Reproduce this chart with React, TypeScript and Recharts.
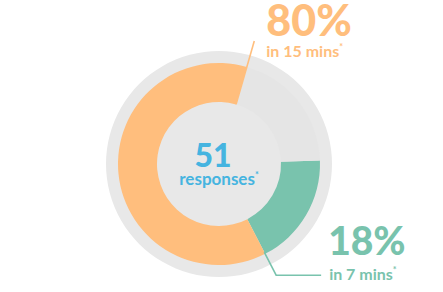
import { PieChart, Pie, Cell } from "recharts"

const segments = ["in 7 mins", "in 15 mins", "later"]
const shares = [18, 62, 20]
const bigLabels = ["18%", "80%", ""]
const subLabels = ["in 7 mins", "in 15 mins", ""]
const colors = ["#79C3AD", "#FFBE7D", "#E5E5E5"]
const totalResponses = 51

const data = segments.map((name, i) => ({ name, value: shares[i] }))
const backdrop = [{ name: "all", value: 1 }]

const RAD = Math.PI / 180
const FONT = "Lato, 'Open Sans', sans-serif"

const polar = (cx: number, cy: number, r: number, a: number) => ({
  x: cx + r * Math.cos(-a * RAD),
  y: cy + r * Math.sin(-a * RAD),
})

function centerLabel(props: any) {
  const { cx, cy } = props
  return (
    <g fontFamily={FONT} fontWeight={900} fill="#45B4E0">
      <text x={cx - 6} y={cy + 3} textAnchor="middle" fontSize={32}>
        {totalResponses}
      </text>
      <text x={cx} y={cy + 21} textAnchor="middle" fontSize={17} fontWeight={700}>
        responses<tspan fontSize={9} dy={-7}>*</tspan>
      </text>
    </g>
  )
}

function sliceLabel(props: any) {
  const { cx, cy, innerRadius, outerRadius, endAngle, index } = props
  if (index === 2) return null
  const color = colors[index]
  if (index === 1) {
    const a = polar(cx, cy, innerRadius, endAngle)
    const b = polar(cx, cy, outerRadius + 27, endAngle)
    return (
      <g fontFamily={FONT} fontWeight={700} fill={color}>
        <line x1={a.x} y1={a.y} x2={b.x} y2={b.y} stroke={color} strokeWidth={1.6} />
        <text x={b.x + 12} y={b.y - 5} fontSize={43} fontWeight={900}>
          {bigLabels[index]}
        </text>
        <text x={b.x + 12} y={b.y + 16} fontSize={16}>
          {subLabels[index]}
          <tspan fontSize={9} dy={-7}>*</tspan>
        </text>
      </g>
    )
  }
  const a = polar(cx, cy, outerRadius - 2, endAngle)
  const b = polar(cx, cy, outerRadius + 24, endAngle)
  return (
    <g fontFamily={FONT} fontWeight={700} fill={color}>
      <polyline
        points={`${a.x},${a.y} ${b.x},${b.y} ${b.x + 45},${b.y}`}
        fill="none"
        stroke={color}
        strokeWidth={1.6}
      />
      <text x={b.x + 52} y={b.y - 20} fontSize={39} fontWeight={900}>
        {bigLabels[index]}
      </text>
      <text x={b.x + 53} y={b.y + 5} fontSize={16}>
        {subLabels[index]}
        <tspan fontSize={9} dy={-7}>*</tspan>
      </text>
    </g>
  )
}

export default function App() {
  return (
    <div style={{ position: "absolute", left: 0, top: 0, width: 443, height: 292, background: "#fff" }}>
      <PieChart width={443} height={292} margin={{ top: 0, right: 0, bottom: 0, left: 0 }}>
        <Pie
          data={backdrop}
          dataKey="value"
          cx={219}
          cy={164}
          innerRadius={0}
          outerRadius={113}
          fill="#E8E8E8"
          stroke="none"
          label={centerLabel}
          labelLine={false}
          isAnimationActive={false}
        />
        <Pie
          data={data}
          dataKey="value"
          cx={219}
          cy={164}
          innerRadius={62}
          outerRadius={101}
          startAngle={2}
          endAngle={-358}
          stroke="none"
          label={sliceLabel}
          labelLine={false}
          isAnimationActive={false}
        >
          {data.map((d, i) => (
            <Cell key={d.name} fill={colors[i]} />
          ))}
        </Pie>
      </PieChart>
    </div>
  )
}
